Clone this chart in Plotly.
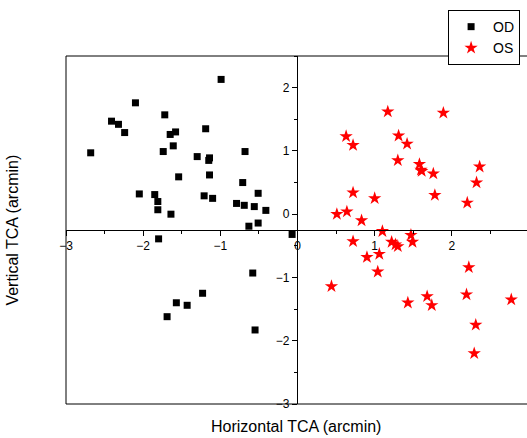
import plotly.graph_objects as go

od_x = [-0.99, -2.10, -1.72, -2.41, -2.32, -2.24, -1.19, -1.58, -1.65, -1.61, -1.74, -2.68,
        -0.68, -1.30, -1.14, -1.15, -1.54, -1.14, -0.71, -2.05, -1.85, -1.81, -1.81, -1.64,
        -1.21, -1.10, -0.51, -0.79, -0.69, -0.56, -0.41, -0.63, -0.51, -1.80, -0.07,
        -0.58, -1.23, -1.57, -1.43, -1.69, -0.55]
od_y = [2.13, 1.76, 1.57, 1.47, 1.42, 1.29, 1.35, 1.30, 1.26, 1.08, 0.99, 0.97,
        0.99, 0.91, 0.89, 0.85, 0.59, 0.62, 0.50, 0.32, 0.31, 0.20, 0.07, 0.00,
        0.29, 0.25, 0.33, 0.17, 0.14, 0.12, 0.06, -0.19, -0.14, -0.39, -0.32,
        -0.93, -1.25, -1.40, -1.44, -1.62, -1.83]

os_x = [1.17, 1.89, 0.63, 0.72, 1.31, 1.42, 1.30, 1.58, 1.60, 1.61, 1.76, 2.36, 2.32,
        1.78, 2.20, 0.72, 1.00, 0.64, 0.51, 0.83, 1.10, 0.72, 1.22, 1.27, 1.30, 1.47,
        1.49, 0.90, 1.06, 1.04, 0.44, 1.43, 1.68, 1.74, 2.22, 2.19, 2.31, 2.29, 2.77]
os_y = [1.62, 1.60, 1.23, 1.09, 1.24, 1.11, 0.85, 0.79, 0.70, 0.68, 0.64, 0.75, 0.50,
        0.30, 0.18, 0.34, 0.25, 0.04, 0.00, -0.10, -0.27, -0.43, -0.44, -0.48, -0.51, -0.33,
        -0.44, -0.68, -0.63, -0.91, -1.14, -1.40, -1.30, -1.44, -0.84, -1.27, -1.75, -2.20, -1.35]

x_ticks = [-3, -2, -1, 0, 1, 2, 3]
y_ticks = [-3, -2, -1, 0, 1, 2]

FONT = "Liberation Sans, Arial, sans-serif"

fig = go.Figure()
fig.add_trace(go.Scatter(x=od_x, y=od_y, mode="markers", name="OD",
                         marker=dict(symbol="square", size=7, color="black")))
fig.add_trace(go.Scatter(x=os_x, y=os_y, mode="markers", name="OS",
                         marker=dict(symbol="star", size=10, color="red")))

axis_common = dict(showgrid=False, zeroline=False, showline=True, linecolor="black",
                   linewidth=1, ticks="outside", ticklen=5, tickcolor="black",
                   tickfont=dict(family=FONT, size=12, color="black"),
                   minor=dict(ticks="outside", ticklen=3, dtick=0.5, tickcolor="black"))

fig.update_layout(
    width=527, height=438,
    margin=dict(l=66, r=0, t=56, b=34),
    paper_bgcolor="white", plot_bgcolor="white",
    xaxis=dict(range=[-3, 2.974], tickvals=x_ticks, anchor="free", position=0.5,
               **axis_common),
    yaxis=dict(range=[-3, 2.5], tickvals=y_ticks, anchor="free", position=0.501,
               side="left", **axis_common),
    showlegend=True,
    legend=dict(x=0.985, xanchor="right", y=1.132, yanchor="top",
                bordercolor="black", borderwidth=1, bgcolor="white",
                font=dict(family=FONT, size=14, color="black"),
                tracegroupgap=0, itemsizing="trace", itemwidth=34),
    shapes=[
        dict(type="line", xref="paper", yref="paper", x0=0, x1=0, y0=0, y1=1,
             line=dict(color="black", width=1)),
        dict(type="line", xref="paper", yref="paper", x0=0, x1=1, y0=1, y1=1,
             line=dict(color="black", width=1)),
        dict(type="line", xref="paper", yref="paper", x0=0, x1=1, y0=0, y1=0,
             line=dict(color="black", width=1)),
    ],
    annotations=[
        dict(text="Horizontal TCA (arcmin)", xref="paper", yref="paper",
             x=(296 - 66) / 461, y=-0.066, xanchor="center", yanchor="middle",
             showarrow=False, font=dict(family=FONT, size=16, color="black")),
        dict(text="Vertical TCA (arcmin)", xref="paper", yref="paper",
             x=-0.118, y=0.5, xanchor="center", yanchor="middle", textangle=-90,
             showarrow=False, font=dict(family=FONT, size=16, color="black")),
    ],
)

fig.write_html("out.html")
